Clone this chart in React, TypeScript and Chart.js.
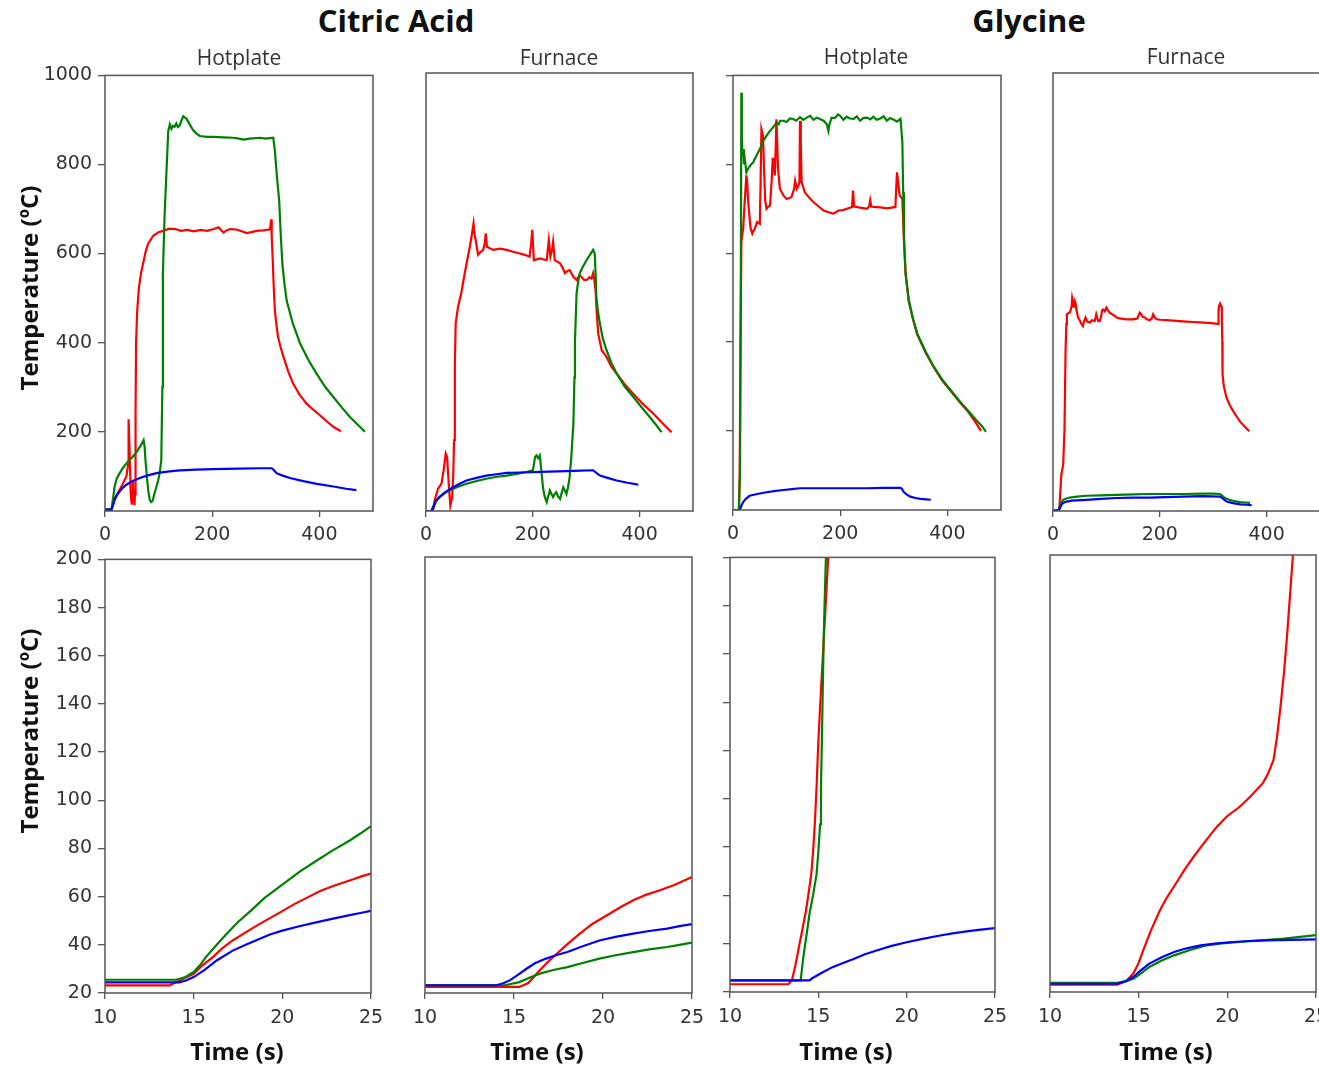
import React, { useEffect, useRef } from "react";
import { Chart, registerables } from "chart.js";

Chart.register(...registerables);

type Pt = [number, number];

// ---------- Top row: full runs (time s, temperature ºC) ----------
const caHotRed: Pt[] = [[0,25],[12,25],[18,50],[25,65],[32,80],[40,100],[43,125],[44,228],[46,150],[48,60],[50,36],[51,60],[52,92],[53,60],[55,35],[56,60],[57,240],[58,400],[60,470],[63,520],[67,555],[71,577],[76,605],[80,621],[90,640],[100,648],[108,651],[120,656],[131,655],[142,651],[154,653],[165,650],[179,653],[190,651],[203,655],[212,659],[221,647],[227,652],[233,655],[245,654],[255,650],[264,646],[273,648],[283,651],[295,652],[302,653],[308,655],[310,677],[311,640],[313,584],[315,520],[317,472],[320,438],[323,412],[328,388],[333,368],[342,335],[351,308],[363,283],[376,263],[388,250],[401,237],[414,223],[426,211],[440,201]];
const caHotGreen: Pt[] = [[0,25],[12,25],[15,50],[18,77],[22,95],[27.5,107],[33,118],[40,129],[46,137],[52,144],[58,153],[65,166],[70,176],[72,181],[74,165],[75.5,136],[78,100],[81,65],[83.5,47],[86,42],[89,45],[92,60],[96,77],[99,90],[102,107],[105,136],[107,300],[108,554],[111,680],[115,793],[118,875],[121,890],[124,880],[127,887],[130,885],[133,892],[136,884],[139,887],[143,900],[146,908],[149,905],[152,903],[158,890],[164,878],[170,870],[177,864],[190,862],[202,862],[220,861],[239,860],[250,858],[258,856],[270,858],[289,860],[300,858],[314,860],[317,830],[321,770],[325,718],[328,640],[331,575],[335,530],[339,494],[350,445],[364,398],[380,360],[395,330],[410,302],[426,278],[442,254],[457,233],[472,215],[485,200]];
const caHotBlue: Pt[] = [[0,25],[12,25],[15,35],[18,47],[22,57],[27.5,66],[33,74],[40,81],[50,88],[65,96],[80,102],[96,107],[120,111],[140,113],[170,115],[202,116],[250,117],[290,118],[311,118],[315,114],[320,107],[330,102],[345,96],[370,89],[395,83],[426,77],[450,72],[469,69]];

const caFurRed: Pt[] = [[0,22],[13,22],[16,45],[22.5,72],[29,83],[33,113],[37,150],[39.5,142],[43,75],[45.6,34],[49,53],[51,100],[52.5,180],[54,350],[55.6,441],[60,478],[66,508],[72.5,553],[82,612],[86,640],[89,664],[91,640],[93,627],[97.5,594],[102,600],[107,605],[110,620],[112,642],[114,612],[126,605],[138,608],[151,605],[163,601],[175.6,597],[185,594],[194,590],[197,620],[199,650],[202,582],[213,586],[226,582],[230,627],[233,590],[236,605],[238,623],[241,582],[251,575],[256,565],[260,553],[265,558],[269,560],[276,545],[282,538],[287,548],[291,545],[296,538],[301,538],[306,544],[310,541],[313,553],[315,540],[317.5,515],[320,460],[322.5,418],[329,381],[338,366],[347,345],[357,329],[372,305],[388,284],[407,260],[426,239],[443,218],[460,198]];
const caFurGreen: Pt[] = [[0,22],[10,22],[13,31],[19,45],[25.6,53],[35,62],[44,68],[60,76],[75.6,83],[95,89],[113,94],[130,98],[150.6,101],[170,105],[188,109],[200,113],[202,125],[204,142],[207,146],[210,140],[213,146],[216,113],[219,75],[222,55],[226,42],[229,55],[232,68],[235,60],[238,53],[241,60],[244,64],[247,55],[251,49],[254,62],[257,75],[260,68],[263,60],[266,75],[269,98],[272,140],[276,217],[278,320],[279,403],[282,508],[285,535],[288,553],[294,568],[300.6,582],[307,594],[313,605],[316,597],[318,540],[319,500],[322,468],[325.6,441],[331,408],[338,381],[347,353],[357,329],[372,300],[388,277],[404,253],[419,232],[431,214],[441,198]];
const caFurBlue: Pt[] = [[0,22],[10,22],[13,27],[16,36],[19,45],[25,53],[32,60],[41,68],[51,75],[63,83],[75.6,90],[95,96],[113,101],[132,104],[150.6,107],[175,108],[200,109],[230,110],[263,111],[290,112],[313,113],[319,107],[325.6,101],[340,96],[357,90],[377,85],[397.5,81]];

const glyHotRed: Pt[] = [[0,22],[11,22],[12.5,103],[14,400],[15.6,625],[17,640],[19,655],[22,720],[25,775],[26.5,760],[28,722],[31,678],[33,655],[36,644],[38,650],[40.6,655],[45,670],[50,666],[51.5,760],[53,879],[56,864],[58,790],[60,720],[62.5,700],[66,705],[69,707],[72,760],[74,812],[75,812],[78,775],[80,850],[81,901],[82.5,850],[84,790],[87.5,745],[94,730],[100,722],[109,726],[114,745],[116,763],[119,745],[122,752],[124,760],[125,898],[126.5,850],[128,760],[134,737],[142,725],[150,715],[160,705],[169,696],[178,692],[187.5,689],[197,696],[205,697],[212.5,700],[222,704],[224,741],[226,705],[240,702],[250,700],[254,705],[256,719],[258,705],[262.5,704],[275,703],[287.5,701],[303,704],[305,760],[306,782],[308,760],[311,730],[316,722],[319,625],[322,551],[328,491],[336,450],[344,416],[360,375],[375,342],[390,314],[406,290],[422,266],[437.5,245],[450,224],[462.5,200]];
const glyHotGreen: Pt[] = [[0,22],[11,22],[13,103],[14.5,500],[15.6,961],[16.5,860],[17.5,820],[19,834],[20.5,800],[22,812],[25,782],[28,790],[31,795],[34,800],[37.5,804],[42,815],[46,825],[50,834],[55,848],[59,858],[62.5,864],[67,872],[72,879],[76,885],[81,894],[85,890],[88,898],[94,898],[100,895],[106,903],[112.5,902],[118,898],[125,906],[131,900],[137.5,905],[144,909],[150,900],[156,905],[162.5,902],[170,897],[175,890],[178,875],[180,890],[184,905],[190,904],[196,912],[200,909],[206,900],[212,907],[218,903],[225,902],[231,908],[237,898],[243,904],[250,905],[256,901],[262,907],[268,900],[275,903],[281,908],[287,898],[293,904],[300,900],[306,896],[312.5,902],[314,880],[316,849],[317.5,737],[319,640],[322,556],[328,494],[336,452],[344,418],[360,377],[375,344],[390,316],[406,292],[422,268],[437.5,247],[452,227],[465,210],[472,198]];
const glyHotBlue: Pt[] = [[0,22],[12,22],[14,26],[16,33],[19,40],[24,47],[31,54],[45,58],[62.5,62],[80,65],[94,67],[110,69],[125,71],[150,71],[187.5,71],[220,71],[250,71],[280,72],[312.5,72],[315,70],[319,62],[325,56],[331,52],[340,49],[350,47],[360,46],[369,45]];

const glyFurRed: Pt[] = [[0,24],[11,24],[12,30],[15.6,103],[19,125],[21.5,200],[23.5,380],[25,440],[26,461],[29,464],[31,465],[33,470],[35,480],[36,498],[37.5,490],[39,476],[41,490],[42.5,484],[44,470],[47,454],[50,448],[53,440],[56,435],[58,445],[61,454],[64,445],[69,443],[73,448],[78,446],[80,455],[81,461],[83,452],[85,446],[87.5,446],[90,455],[92,470],[94,472],[97,468],[100,476],[103,470],[106,465],[110,462],[115,458],[119,454],[125,452],[137.5,450],[150,450],[158,452],[160,458],[162.5,465],[165,462],[168,455],[172,454],[176,450],[181,448],[185,452],[187.5,461],[190,455],[194,450],[200,449],[212.5,448],[225,447],[237.5,446],[250,445],[262,444],[275,443],[290,442],[300,441],[309,440],[310,470],[311,480],[313,485],[315,480],[316,476],[317,400],[317.5,327],[320,300],[325,275],[331,258],[337.5,245],[344,233],[350,222],[358,212],[367.5,200]];
const glyFurGreen: Pt[] = [[0,24],[10,24],[12.5,32],[15,40],[19,47],[25,50],[31,52],[45,54],[62.5,56],[90,57],[119,58],[150,59],[181,60],[210,60],[244,60],[280,61],[300,61],[312.5,60],[316,57],[322,51],[330,47],[337.5,45],[350,42],[360,41],[369,40]];
const glyFurBlue: Pt[] = [[0,22],[10,22],[13,28],[15.6,36],[19,40],[25,43],[35,45],[62.5,47],[90,49],[119,51],[150,52],[181,52],[210,53],[244,54],[280,55],[312.5,54],[316,52],[325,43],[335,40],[350,37],[362,36],[372,35]];

// ---------- Bottom row: first seconds (10–25 s) ----------
const caHotZoomRed: Pt[] = [[10,23.2],[13.65,23.2],[14.2,25.2],[15,28],[15.5,31.5],[16.1,35],[16.6,38.5],[17.2,41.8],[18,45.5],[18.7,48.6],[19.4,51.5],[20,54],[20.7,57],[21.4,59.6],[22.1,62.2],[22.9,64.5],[23.5,66],[24,67.2],[24.5,68.5],[25,69.6]];
const caHotZoomGreen: Pt[] = [[10,25.5],[14,25.5],[14.5,26.5],[15,28.7],[15.35,31.5],[15.7,35],[16.3,40],[16.85,44.5],[17.5,49.5],[18.2,54],[19,59.5],[20,65],[21,70.5],[21.9,74.8],[22.8,79],[23.8,83.3],[24.4,86.2],[25,89.3]];
const caHotZoomBlue: Pt[] = [[10,24.4],[14.2,24.4],[14.6,25.3],[15,26.6],[15.6,29.5],[16.3,33.5],[17.2,37.6],[18,40.2],[18.7,42.4],[19.3,44.3],[20,45.9],[20.9,47.6],[21.9,49.3],[22.8,50.8],[23.8,52.3],[24.4,53.2],[25,54.1]];

const caFurZoomRed: Pt[] = [[10,22.5],[15.3,22.5],[15.8,24.1],[16.1,26.5],[16.45,29.4],[16.9,32.8],[17.4,36.2],[18,40.2],[18.7,44.5],[19.4,48.5],[20.2,52],[21,55.5],[21.7,58.3],[22.4,60.5],[23.2,62.4],[24,64.6],[25,67.9]];
const caFurZoomGreen: Pt[] = [[10,23.2],[14.5,23.2],[15.3,24.5],[15.9,26.4],[16.45,28],[17.2,29.5],[18,30.7],[18.9,32.5],[19.8,34.2],[20.7,35.6],[21.7,36.9],[22.6,38],[23.6,39],[24.3,39.9],[25,40.8]];
const caFurZoomBlue: Pt[] = [[10,23.2],[14,23.2],[14.4,24],[14.76,25.2],[15.2,27.4],[15.7,30],[16.2,32.4],[16.8,34.2],[17.4,35.7],[18,36.9],[18.9,39.4],[19.8,41.7],[20.7,43.2],[21.7,44.5],[22.6,45.6],[23.6,46.6],[24.3,47.6],[25,48.4]];

const glyHotZoomRed: Pt[] = [[10,23.2],[13.3,23.2],[13.5,24.8],[13.7,31],[13.9,38.6],[14.1,46],[14.3,53.7],[14.45,61],[14.6,68.8],[14.7,78],[14.8,89.4],[14.9,105],[15,123.7],[15.15,145],[15.3,165],[15.45,185],[15.56,200]];
const glyHotZoomGreen: Pt[] = [[10,24.8],[14,24.8],[14.15,34.4],[14.3,42],[14.5,52.3],[14.7,60],[14.9,68.8],[15,78],[15.1,89.4],[15.15,105],[15.2,123.7],[15.25,145],[15.3,165],[15.37,185],[15.43,200]];
const glyHotZoomBlue: Pt[] = [[10,24.8],[14.5,24.8],[14.7,25.9],[15.2,28],[15.8,30.3],[16.4,32],[17,33.7],[17.6,35.5],[18.3,37.2],[19.1,39],[20,40.6],[20.9,42],[21.9,43.4],[22.6,44.3],[23.4,45.1],[24.2,45.8],[25,46.5]];

const glyFurZoomRed: Pt[] = [[10,23],[13.8,23],[14.3,24.5],[14.7,27.6],[15,32],[15.26,37.2],[15.7,45.5],[16.2,53.7],[16.6,59],[17.1,64.7],[17.6,70.5],[18.1,75.7],[18.7,81.5],[19.4,88],[20,92.5],[20.7,96.3],[21.3,100.5],[22,106],[22.3,110],[22.6,115.5],[22.8,125],[23,137.5],[23.2,152],[23.35,165],[23.5,180],[23.7,200]];
const glyFurZoomGreen: Pt[] = [[10,23.8],[13.8,23.8],[14.3,24.5],[14.7,25.5],[15.1,27.5],[15.6,30.3],[16.3,33],[17,35.1],[17.9,37.3],[18.8,39.2],[19.7,40],[20.7,40.6],[21.9,41.3],[23.2,42],[24.1,42.7],[25,43.4]];
const glyFurZoomBlue: Pt[] = [[10,23.4],[13.8,23.4],[14.3,24.5],[14.7,26.2],[15.1,28.8],[15.6,31.7],[16.3,34.3],[17,36.5],[17.7,38],[18.5,39.2],[19.4,40],[20.3,40.6],[21.2,41],[22.2,41.3],[23.6,41.5],[25,41.7]];

// ---------- Axis ticks ----------
const topXTicks = [0, 200, 400];
const topYTicks = [200, 400, 600, 800, 1000];
const bottomXTicks = [10, 15, 20, 25];
const bottomYTicks = [20, 40, 60, 80, 100, 120, 140, 160, 180, 200];

const RED = "#ff0000";
const GREEN = "#008000";
const BLUE = "#0000ff";
const AXIS = "#555555";
const TICK_TEXT = "#333333";

const ML = 70, MT = 15, MR = 25, MB = 40;

type Spec = {
  series: [Pt[], Pt[], Pt[]]; // red, green, blue
  box: [number, number, number, number];
  x: [number, number];
  y: [number, number];
  xTicks: number[];
  yTicks: number[];
  yMode: "labels" | "marks" | "none";
  xPad: number;
};

const top = { x: [0, 500] as [number, number], y: [22, 1000] as [number, number], xTicks: topXTicks, yTicks: topYTicks, xPad: 7 };
const bot = { x: [10, 25] as [number, number], y: [20, 200] as [number, number], xTicks: bottomXTicks, yTicks: bottomYTicks, xPad: 8 };

const panels: Spec[] = [
  { ...top, series: [caHotRed, caHotGreen, caHotBlue], box: [105, 73, 373, 511], yMode: "labels" },
  { ...top, series: [caFurRed, caFurGreen, caFurBlue], box: [426, 73, 693, 511], yMode: "none" },
  { ...top, series: [glyHotRed, glyHotGreen, glyHotBlue], box: [733, 73, 1001, 510], yMode: "marks" },
  { ...top, series: [glyFurRed, glyFurGreen, glyFurBlue], box: [1053, 73, 1320, 511], yMode: "none" },
  { ...bot, series: [caHotZoomRed, caHotZoomGreen, caHotZoomBlue], box: [105, 557, 371, 993], yMode: "labels" },
  { ...bot, series: [caFurZoomRed, caFurZoomGreen, caFurZoomBlue], box: [425, 557, 692, 993], yMode: "none" },
  { ...bot, series: [glyHotZoomRed, glyHotZoomGreen, glyHotZoomBlue], box: [730, 555, 995, 992], yMode: "marks" },
  { ...bot, series: [glyFurZoomRed, glyFurZoomGreen, glyFurZoomBlue], box: [1050, 555, 1316, 992], yMode: "none" },
];

const framePlugin = {
  id: "frame",
  afterDraw(chart: any) {
    const { ctx, chartArea } = chart;
    const { left, top, right, bottom } = chartArea;
    ctx.save();
    ctx.strokeStyle = AXIS;
    ctx.lineWidth = 1.5;
    ctx.strokeRect(left, top, right - left, bottom - top);
    ctx.restore();
  },
};

const tickFont = { family: "'DejaVu Sans', sans-serif", size: 19 };

function Panel({ spec }: { spec: Spec }) {
  const ref = useRef<HTMLCanvasElement>(null);
  const [L, T, R, B] = spec.box;
  const w = R - L + ML + MR;
  const h = B - T + MT + MB;
  useEffect(() => {
    const colors = [RED, GREEN, BLUE];
    const order = [2, 1, 0];
    const chart = new Chart(ref.current as HTMLCanvasElement, {
      type: "line",
      data: {
        datasets: spec.series.map((s, i) => ({
          data: s.map(([x, y]) => ({ x, y })),
          borderColor: colors[i],
          backgroundColor: colors[i],
          borderWidth: 2.2,
          pointRadius: 0,
          tension: 0,
          fill: false,
          order: order[i],
        })),
      },
      options: {
        responsive: false,
        maintainAspectRatio: false,
        animation: false,
        events: [],
        layout: { padding: { left: 0, top: MT, right: MR, bottom: 0 } },
        plugins: { legend: { display: false }, tooltip: { enabled: false }, title: { display: false } },
        scales: {
          x: {
            type: "linear",
            min: spec.x[0],
            max: spec.x[1],
            afterBuildTicks: (s: any) => { s.ticks = spec.xTicks.map((v) => ({ value: v })); },
            afterFit: (s: any) => { s.height = MB; },
            grid: { display: true, drawOnChartArea: false, drawTicks: true, tickLength: 6, color: AXIS, lineWidth: 1.3 },
            border: { display: false },
            ticks: { font: tickFont, color: TICK_TEXT, padding: spec.xPad, maxRotation: 0, autoSkip: false, callback: (v: any) => String(v) },
          },
          y: {
            type: "linear",
            min: spec.y[0],
            max: spec.y[1],
            afterBuildTicks: (s: any) => { s.ticks = spec.yTicks.map((v) => ({ value: v })); },
            afterFit: (s: any) => { s.width = ML; },
            grid: { display: spec.yMode !== "none", drawOnChartArea: false, drawTicks: true, tickLength: 7, color: AXIS, lineWidth: 1.3 },
            border: { display: false },
            ticks: {
              display: spec.yMode !== "none",
              font: tickFont,
              color: TICK_TEXT,
              padding: 6,
              autoSkip: false,
              callback: (v: any) => (spec.yMode === "labels" ? String(v) : ""),
            },
          },
        },
      } as any,
      plugins: [framePlugin],
    });
    return () => chart.destroy();
  }, []);
  return (
    <canvas
      ref={ref}
      width={w}
      height={h}
      style={{ position: "absolute", left: L - ML, top: T - MT, width: w, height: h }}
    />
  );
}

function Label({ x, y, text, size, bold, rotate, color }: { x: number; y: number; text: string; size: number; bold?: boolean; rotate?: boolean; color?: string }) {
  return (
    <div
      style={{
        position: "absolute",
        left: x,
        top: y,
        transform: `translate(-50%, -50%)${rotate ? " rotate(-90deg)" : ""}`,
        fontFamily: "'Open Sans', 'Noto Sans', sans-serif",
        fontSize: size,
        fontWeight: bold ? 700 : 400,
        color: color || "#111",
        whiteSpace: "nowrap",
        lineHeight: 1,
      }}
    >
      {text}
    </div>
  );
}

export default function App() {
  return (
    <div style={{ position: "absolute", left: 0, top: 0, width: 1319, height: 1066, overflow: "hidden", background: "#fff" }}>
      {panels.map((p, i) => (
        <Panel key={i} spec={p} />
      ))}
      <Label x={396} y={20} text="Citric Acid" size={31} bold />
      <Label x={1029} y={20} text="Glycine" size={31} bold />
      <Label x={239} y={57} text="Hotplate" size={21} color="#333" />
      <Label x={559} y={57} text="Furnace" size={21} color="#333" />
      <Label x={866} y={56} text="Hotplate" size={21} color="#333" />
      <Label x={1186} y={56} text="Furnace" size={21} color="#333" />
      <Label x={29} y={288} text="Temperature (ºC)" size={24} bold rotate />
      <Label x={29} y={731} text="Temperature (ºC)" size={24} bold rotate />
      <Label x={237} y={1051} text="Time (s)" size={24} bold />
      <Label x={537} y={1051} text="Time (s)" size={24} bold />
      <Label x={846} y={1051} text="Time (s)" size={24} bold />
      <Label x={1166} y={1051} text="Time (s)" size={24} bold />
    </div>
  );
}
